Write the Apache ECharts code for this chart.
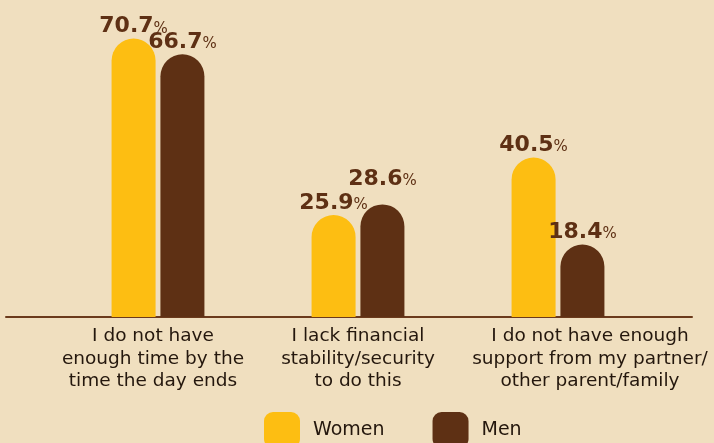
<!DOCTYPE html>
<html>
<head>
<meta charset="utf-8">
<style>
  html, body { margin: 0; padding: 0; background: #F0DFBF; }
  #chart { width: 714px; height: 443px; }
</style>
<script src="https://cdn.jsdelivr.net/npm/echarts@6/dist/echarts.min.js"></script>
</head>
<body>
<div id="chart"></div>
<script>
// Reasons given, split by gender (% of respondents)
const categories = [
  'I do not have\nenough time by the\ntime the day ends',
  'I lack financial\nstability/security\nto do this',
  'I do not have enough\nsupport from my partner/\nother parent/family'
];
const women = [70.7, 25.9, 40.5];
const men = [66.7, 28.6, 18.4];
const seriesNames = ['Women', 'Men'];

const YELLOW = '#FDBE12';
const BROWN = '#5E3014';
const INK = '#24170d';
const FONT = '"DejaVu Sans", "Noto Sans", sans-serif';

// small horizontal nudges so multi-line category captions sit under their groups
const labelShift = [[0, 10, 0, 0], [0, 0, 0, 0], [0, 0, 0, 64]];

function valueLabel(distance) {
  return {
    show: true,
    position: 'top',
    distance: distance,
    formatter: p => '{n|' + p.value.toFixed(1) + '}{p|%}',
    rich: {
      n: { fontFamily: FONT, fontWeight: 'bold', fontSize: 22, color: BROWN },
      p: { fontFamily: FONT, fontWeight: 'normal', fontSize: 15, color: BROWN, padding: [4, 0, 0, 0] }
    }
  };
}

// the men's label in the middle group is lifted clear of the neighbouring label
function withLabels(values, lifted) {
  return values.map((v, i) => (
    i === lifted ? { value: v, label: valueLabel(14) } : v
  ));
}

const chart = echarts.init(document.getElementById('chart'), null, { renderer: 'canvas' });
chart.setOption({
  backgroundColor: '#F0DFBF',
  animation: false,
  legend: {
    data: seriesNames,
    top: 407,
    left: 259,
    itemWidth: 36,
    itemHeight: 36,
    itemGap: 48,
    icon: 'roundRect',
    textStyle: { fontFamily: FONT, fontSize: 19, color: INK, padding: [0, 0, 0, 8] }
  },
  grid: [
    { left: 58, right: 56, top: 2, bottom: 126 },
    { left: 6, right: 22, top: 2, bottom: 126 }
  ],
  xAxis: [
    {
      type: 'category',
      gridIndex: 0,
      data: categories.map((c, i) => ({ value: c, textStyle: { padding: labelShift[i] } })),
      axisLine: { show: false },
      axisTick: { show: false },
      axisLabel: {
        interval: 0,
        margin: 8,
        fontFamily: FONT,
        fontSize: 18.5,
        lineHeight: 22.5,
        color: INK
      }
    },
    {
      type: 'category',
      gridIndex: 1,
      data: categories,
      axisLine: { show: true, lineStyle: { color: '#6B3A1C', width: 2 } },
      axisTick: { show: false },
      axisLabel: { show: false }
    }
  ],
  yAxis: [
    { type: 'value', gridIndex: 0, min: 0, max: 80, show: false },
    { type: 'value', gridIndex: 1, min: 0, max: 80, show: false }
  ],
  series: [
    {
      name: seriesNames[0],
      type: 'bar',
      data: women,
      barWidth: 44,
      barGap: '11%',
      itemStyle: { color: YELLOW, borderRadius: [22, 22, 0, 0] },
      label: valueLabel(1)
    },
    {
      name: seriesNames[1],
      type: 'bar',
      data: withLabels(men, 1),
      barWidth: 44,
      barGap: '11%',
      itemStyle: { color: BROWN, borderRadius: [22, 22, 0, 0] },
      label: valueLabel(1)
    }
  ]
});
</script>
</body>
</html>
